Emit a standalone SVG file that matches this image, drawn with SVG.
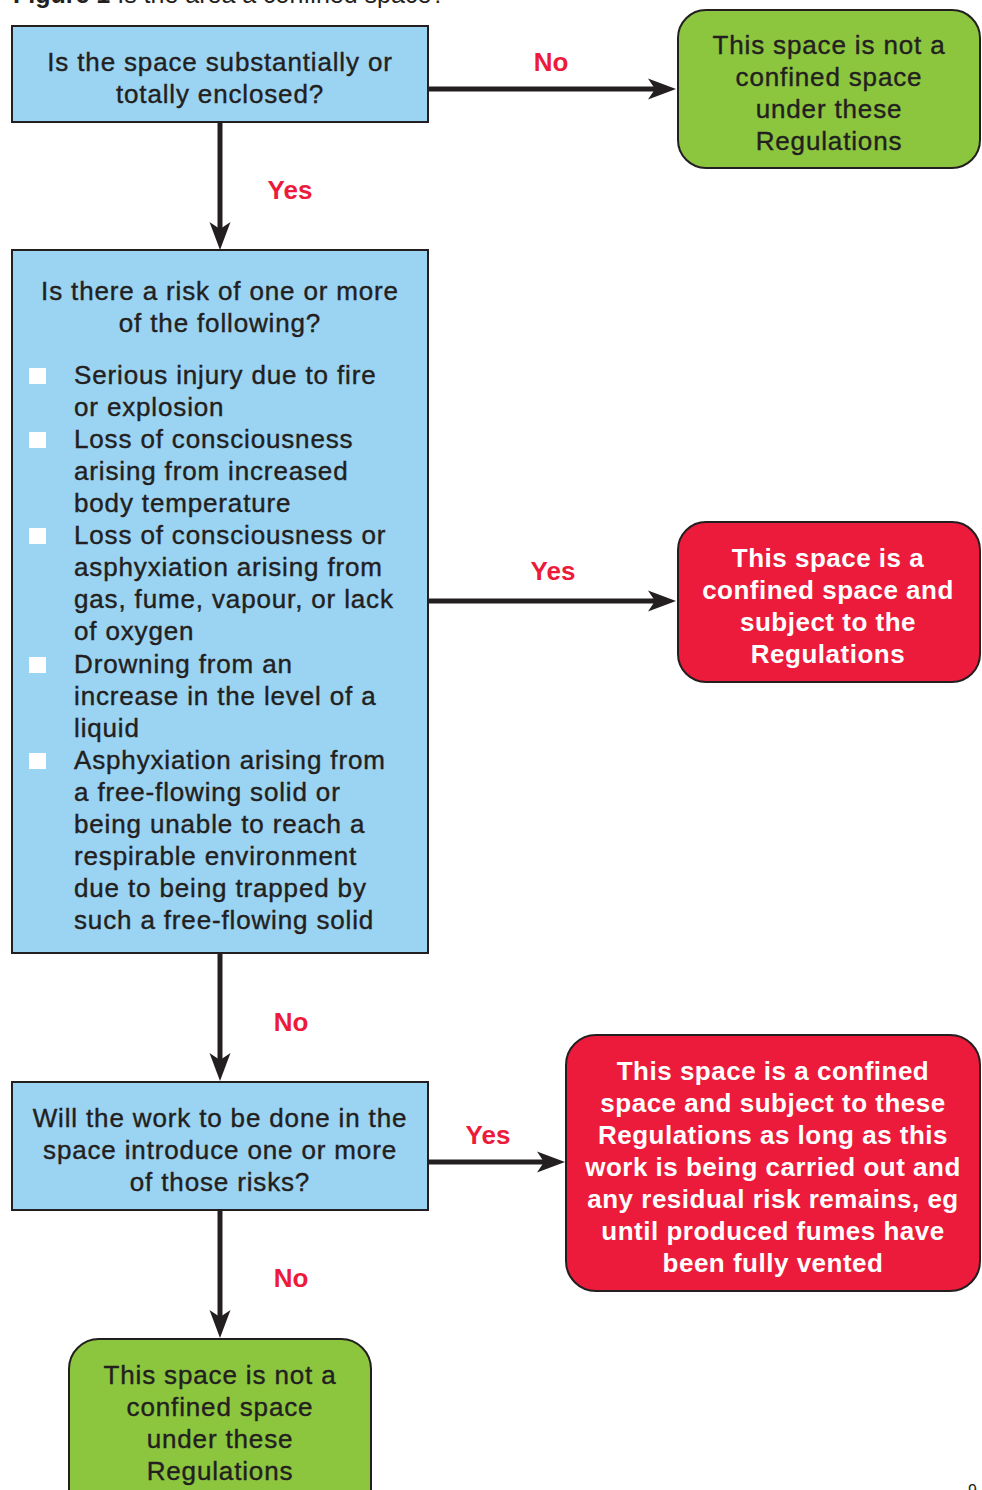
<svg xmlns="http://www.w3.org/2000/svg" width="982" height="1490" viewBox="0 0 982 1490">
  <style>
    .q { fill: #9bd3f2; stroke: #231f20; stroke-width: 2; }
    .g { fill: #8cc63f; stroke: #231f20; stroke-width: 2; }
    .r { fill: #ed1b3b; stroke: #231f20; stroke-width: 2; }
    .t { font-family: "Liberation Sans", Arial, sans-serif; font-size: 26px; fill: #231f20; stroke: #231f20; stroke-width: 0.4px; letter-spacing: 0.85px; }
    .c { text-anchor: middle; }
    .w { font-family: "Liberation Sans", Arial, sans-serif; font-size: 26px; font-weight: bold; fill: #ffffff; text-anchor: middle; letter-spacing: 0.5px; }
    .lab { font-family: "Liberation Sans", Arial, sans-serif; font-size: 26px; font-weight: bold; fill: #ed1b3b; text-anchor: middle; }
    .con { stroke: #231f20; stroke-width: 5; fill: none; }
    .bul { fill: #ffffff; }
  </style>
  <defs>
    <marker id="ah" markerUnits="userSpaceOnUse" markerWidth="32" markerHeight="24" viewBox="-10 -12 32 24" refX="0" refY="0" orient="auto">
      <path d="M20,0 L-8,-10.5 L-1,0 L-8,10.5 Z" fill="#231f20"/>
    </marker>
  </defs>
  <rect width="982" height="1490" fill="#ffffff"/>

  <text x="13" y="3" font-family="Liberation Sans, Arial, sans-serif" font-size="25" fill="#231f20"><tspan font-weight="bold">Figure 1</tspan> Is the area a confined space?</text>

  <g id="connectors">
    <line class="con" x1="428" y1="89" x2="656" y2="89" marker-end="url(#ah)"/>
    <line class="con" x1="220" y1="122" x2="220" y2="230" marker-end="url(#ah)"/>
    <line class="con" x1="428" y1="601" x2="656" y2="601" marker-end="url(#ah)"/>
    <line class="con" x1="220" y1="953" x2="220" y2="1061" marker-end="url(#ah)"/>
    <line class="con" x1="428" y1="1162" x2="545" y2="1162" marker-end="url(#ah)"/>
    <line class="con" x1="220" y1="1210" x2="220" y2="1318" marker-end="url(#ah)"/>
    <text class="lab" x="551" y="71">No</text>
    <text class="lab" x="290" y="199">Yes</text>
    <text class="lab" x="553" y="580">Yes</text>
    <text class="lab" x="291" y="1031">No</text>
    <text class="lab" x="488" y="1144">Yes</text>
    <text class="lab" x="291" y="1287">No</text>
  </g>

  <g id="q1">
    <rect class="q" x="12" y="26" width="416" height="96"/>
    <text class="t c" x="220" y="71">Is the space substantially or</text>
    <text class="t c" x="220" y="103">totally enclosed?</text>
  </g>

  <g id="notConfined1">
    <rect class="g" x="678" y="10" width="302" height="158" rx="28"/>
    <text class="t c" x="829" y="54">This space is not a</text>
    <text class="t c" x="829" y="86">confined space</text>
    <text class="t c" x="829" y="118">under these</text>
    <text class="t c" x="829" y="150">Regulations</text>
  </g>

  <g id="q2">
    <rect class="q" x="12" y="250" width="416" height="703"/>
    <text class="t c" x="220" y="300">Is there a risk of one or more</text>
    <text class="t c" x="220" y="332">of the following?</text>
    <rect class="bul" x="29" y="368" width="17" height="16"/>
    <rect class="bul" x="29" y="432" width="17" height="16"/>
    <rect class="bul" x="29" y="528" width="17" height="16"/>
    <rect class="bul" x="29" y="657" width="17" height="16"/>
    <rect class="bul" x="29" y="753" width="17" height="16"/>
    <text class="t" x="74" y="384">Serious injury due to fire</text>
    <text class="t" x="74" y="416">or explosion</text>
    <text class="t" x="74" y="448">Loss of consciousness</text>
    <text class="t" x="74" y="480">arising from increased</text>
    <text class="t" x="74" y="512">body temperature</text>
    <text class="t" x="74" y="544">Loss of consciousness or</text>
    <text class="t" x="74" y="576">asphyxiation arising from</text>
    <text class="t" x="74" y="608">gas, fume, vapour, or lack</text>
    <text class="t" x="74" y="640">of oxygen</text>
    <text class="t" x="74" y="673">Drowning from an</text>
    <text class="t" x="74" y="705">increase in the level of a</text>
    <text class="t" x="74" y="737">liquid</text>
    <text class="t" x="74" y="769">Asphyxiation arising from</text>
    <text class="t" x="74" y="801">a free-flowing solid or</text>
    <text class="t" x="74" y="833">being unable to reach a</text>
    <text class="t" x="74" y="865">respirable environment</text>
    <text class="t" x="74" y="897">due to being trapped by</text>
    <text class="t" x="74" y="929">such a free-flowing solid</text>
  </g>

  <g id="confined1">
    <rect class="r" x="678" y="522" width="302" height="160" rx="28"/>
    <text class="w" x="828" y="567">This space is a</text>
    <text class="w" x="828" y="599">confined space and</text>
    <text class="w" x="828" y="631">subject to the</text>
    <text class="w" x="828" y="663">Regulations</text>
  </g>

  <g id="q3">
    <rect class="q" x="12" y="1082" width="416" height="128"/>
    <text class="t c" x="220" y="1127">Will the work to be done in the</text>
    <text class="t c" x="220" y="1159">space introduce one or more</text>
    <text class="t c" x="220" y="1191">of those risks?</text>
  </g>

  <g id="confined2">
    <rect class="r" x="566" y="1035" width="414" height="256" rx="30"/>
    <text class="w" x="773" y="1080">This space is a confined</text>
    <text class="w" x="773" y="1112">space and subject to these</text>
    <text class="w" x="773" y="1144">Regulations as long as this</text>
    <text class="w" x="773" y="1176">work is being carried out and</text>
    <text class="w" x="773" y="1208">any residual risk remains, eg</text>
    <text class="w" x="773" y="1240">until produced fumes have</text>
    <text class="w" x="773" y="1272">been fully vented</text>
  </g>

  <g id="notConfined2">
    <rect class="g" x="69" y="1339" width="302" height="180" rx="30"/>
    <text class="t c" x="220" y="1384">This space is not a</text>
    <text class="t c" x="220" y="1416">confined space</text>
    <text class="t c" x="220" y="1448">under these</text>
    <text class="t c" x="220" y="1480">Regulations</text>
  </g>

  <text x="968" y="1496" font-family="Liberation Sans, Arial, sans-serif" font-size="16" fill="#231f20">9</text>
</svg>
